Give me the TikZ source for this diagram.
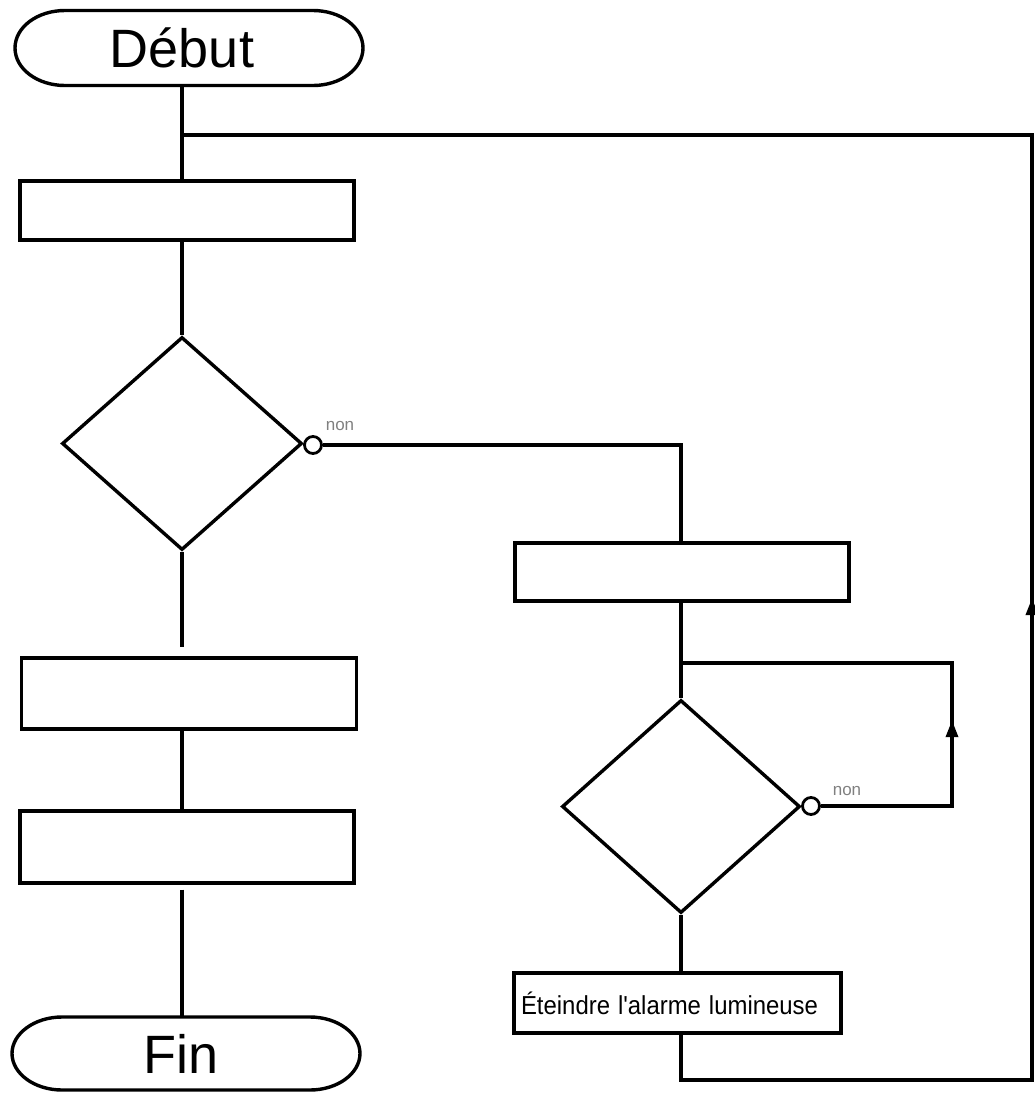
\documentclass[tikz,border=0pt]{standalone}
\usepackage{fontspec}
\setmainfont{Liberation Sans}[Ligatures=TeXOff]
\usetikzlibrary{shapes.geometric,arrows.meta,decorations.markings}
\newcommand\termoutline[1]{%
  \draw ([xshift=50pt]#1.north west) -- ([xshift=-50pt]#1.north east)
    .. controls ([xshift=-22.4pt]#1.north east) and ([yshift=-16.6pt]#1.north east) .. (#1.east)
    .. controls ([yshift=16.6pt]#1.south east) and ([xshift=-22.4pt]#1.south east) .. ([xshift=-50pt]#1.south east)
    -- ([xshift=50pt]#1.south west)
    .. controls ([xshift=22.4pt]#1.south west) and ([yshift=16.6pt]#1.south west) .. (#1.west)
    .. controls ([yshift=-16.6pt]#1.north west) and ([xshift=22.4pt]#1.north west) .. cycle;}
\begin{document}
\begin{tikzpicture}[x=1pt,y=-1pt, line width=3.4pt,
  proc/.style={draw, rectangle, inner sep=0pt},
  term/.style={rectangle, inner sep=0pt, outer sep=0pt, minimum width=348pt, minimum height=75pt, font=\fontsize{54}{54}\selectfont},
  dec/.style={draw, diamond, inner sep=0pt, minimum width=240pt, minimum height=213pt},
  neg/.style={draw, circle, inner sep=0pt, minimum size=17pt, line width=2.8pt, fill=white},
  lbl/.style={text=gray, font=\fontsize{17}{17}\selectfont},
  uparrow/.style={postaction={decorate}, decoration={markings, mark=at position #1 with {\arrow{Triangle[length=17pt,width=12pt]}}}}
]
\path[use as bounding box] (0,0) rectangle (1035,1093);
% left column
\node[term] (debut) at (189,48) {Début\hspace*{14pt}};
\termoutline{debut}
\node[proc, minimum width=334pt, minimum height=59pt] (b1) at (187,210.5) {};
\node[dec] (d1) at (182,443.5) {};
\node[neg] (c1) at (313,445) {};
\node[lbl] (n1) at (340,426) {non};
\node[proc, minimum width=335pt, minimum height=71pt] (b4) at (189,693.5) {};
\node[proc, minimum width=334pt, minimum height=72pt] (b5) at (187,847) {};
\node[term, minimum height=73pt] (fin) at (186,1053.5) {Fin\hspace*{9pt}};
\termoutline{fin}
% right column
\node[proc, minimum width=334pt, minimum height=58pt] (b2) at (682,572) {};
\node[dec, minimum width=238pt] (d2) at (681,806.5) {};
\node[neg] (c2) at (811,806) {};
\node[lbl] (n2) at (847,791) {non};
\node[proc, minimum width=327pt, minimum height=60pt, text width=313pt, align=left, font=\fontsize{26}{26}\selectfont] (b3) at (677.5,1003) {\scalebox{0.92}[1]{Éteindre l'alarme lumineuse}};
% junction coordinates
\coordinate (j1) at (182,135);
\coordinate (j2) at (681,663);
\coordinate (k1) at (952,806);
\coordinate (k2) at (952,663);
\coordinate (k3) at (681,1080);
\coordinate (k4) at (1032,1080);
\coordinate (k5) at (1032,135);
% connectors
\draw (debut.south -| d1) -- (b1.north -| d1);
\draw (b1.south -| d1) -- (d1.north);
\draw[shorten >=9pt] (d1.south) -- (b4.north -| d1);
\draw (b4.south -| d1) -- (b5.north -| d1);
\draw[shorten <=5pt] (b5.south -| d1) -- (fin.north -| d1);
\draw (c1.east) -| (b2.north -| d2);
\draw (b2.south -| d2) -- (d2.north);
\draw (d2.south) -- (b3.north -| d2);
\draw (c2.east) -- (k1) -- (k2) -- (j2);
\draw[uparrow=0.6] (k1) -- (k2);
\draw (b3.south -| d2) -- (k3) -- (k4) -- (k5) -- (j1);
\draw[uparrow=0.51] (k4) -- (k5);
\end{tikzpicture}
\end{document}
